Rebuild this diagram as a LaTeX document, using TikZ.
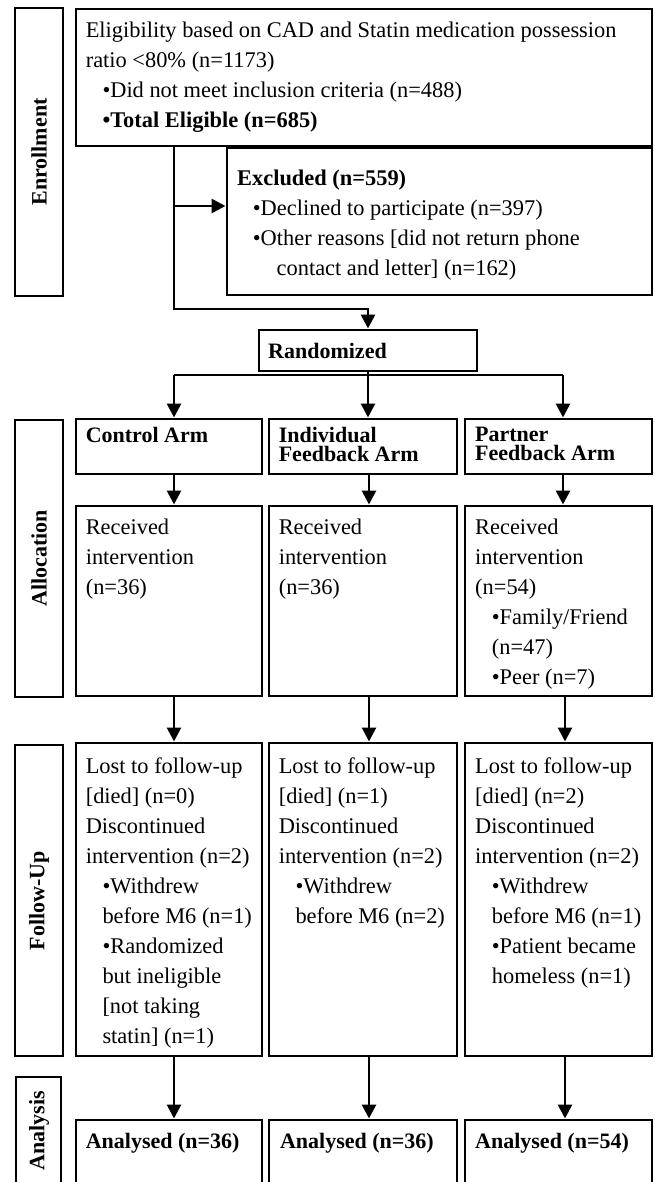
\documentclass[tikz,border=0pt]{standalone}
\usepackage{fontspec}
\setmainfont{Liberation Serif}
\usetikzlibrary{calc,arrows.meta}
\tikzset{%
  panel/.style={draw,line width=1.4pt,inner sep=0pt,outer sep=0pt,anchor=north west},
  body/.style={anchor=north west,align=left,inner sep=0pt,font=\fontsize{22.4}{30}\selectfont},
  head/.style={anchor=north west,align=left,inner sep=0pt,font=\fontsize{22}{19}\selectfont\bfseries},
  stage/.style={rotate=90,inner sep=0pt,font=\fontsize{22}{26}\selectfont\bfseries},
  link/.style={line width=2.8pt,shorten >=1.5pt,-{Triangle[length=14pt,width=14pt]}},
  trunk/.style={line width=2.8pt}
}
\NewDocumentCommand\panelbox{mmmm}{%
  \node[panel,minimum width=#3,minimum height=#4] (#1) at (#2) {};
}
\newcommand\bulgap{\hspace*{16.7pt}}

\begin{document}
\begin{tikzpicture}[x=1pt,y=-1pt]
  \useasboundingbox (0,0) rectangle (655,1182);
  \clip (0,0) rectangle (655,1182);
  % Stage labels
  \panelbox{sideEnr}{15,8}{48}{288}
  \panelbox{sideAll}{15,420}{48}{277}
  \panelbox{sideFol}{15,745}{48}{311}
  \panelbox{sideAna}{16,1077}{45}{130}
  \node[stage] (lblEnr) at (sideEnr.center) {Enrollment};
  \node[stage] (lblAll) at (sideAll.center) {Allocation};
  \node[stage] (lblFol) at (sideFol.center) {Follow-Up};
  \node[stage] (lblAna) at (39,1131) {Analysis};
  % Enrollment
  \panelbox{elig}{76,9}{576}{137}
  \node[body] (eligTxt) at (85.6,22) {Eligibility based on CAD and Statin medication possession\\
    ratio <80\% (n=1173)\\
    \bulgap•Did not meet inclusion criteria (n=488)\\
    \bulgap\textbf{•Total Eligible (n=685)}};
  \panelbox{excl}{227,148}{425}{147}
  \node[body] (exclTxt) at (237,170) {\textbf{Excluded (n=559)}\\
    \hspace*{15.7pt}•Declined to participate (n=397)\\
    \hspace*{15.7pt}•Other reasons [did not return phone\\
    \hspace*{39.5pt}contact and letter] (n=162)};
  \panelbox{rand}{259,330}{218}{41}
  \node[body,font=\fontsize{22}{30}\selectfont\bfseries] (randTxt) at (268,343) {Randomized};
  % Arms
  \panelbox{armC}{76,419}{186}{55}
  \panelbox{armI}{269,419}{188}{55}
  \panelbox{armP}{465,419}{187}{55}
  \node[head] (armCTxt) at (85.6,427) {Control Arm};
  \node[head] (armITxt) at (278.6,427) {Individual\\Feedback Arm};
  \node[head] (armPTxt) at (475,427) {Partner\\Feedback Arm};
  % Allocation
  \panelbox{recC}{76,506}{186}{190}
  \panelbox{recI}{269,506}{188}{190}
  \panelbox{recP}{465,506}{187}{190}
  \node[body] (recCTxt) at (85.6,519) {Received\\intervention\\(n=36)};
  \node[body] (recITxt) at (278.6,519) {Received\\intervention\\(n=36)};
  \node[body] (recPTxt) at (475,519) {Received\\intervention\\(n=54)\\
    \bulgap•Family/Friend\\ \bulgap(n=47)\\ \bulgap•Peer (n=7)};
  % Follow-up
  \panelbox{fupC}{76,743}{186}{313}
  \panelbox{fupI}{269,743}{188}{313}
  \panelbox{fupP}{465,743}{187}{313}
  \node[body] (fupCTxt) at (85.6,758) {Lost to follow-up\\{[died] (n=0)}\\Discontinued\\
    intervention (n=2)\\ \bulgap•Withdrew\\ \bulgap before M6 (n=1)\\
    \bulgap•Randomized\\ \bulgap but ineligible\\ \bulgap{[not taking}\\ \bulgap statin] (n=1)};
  \node[body] (fupITxt) at (278.6,758) {Lost to follow-up\\{[died] (n=1)}\\Discontinued\\
    intervention (n=2)\\ \bulgap•Withdrew\\ \bulgap before M6 (n=2)};
  \node[body] (fupPTxt) at (475,758) {Lost to follow-up\\{[died] (n=2)}\\Discontinued\\
    intervention (n=2)\\ \bulgap•Withdrew\\ \bulgap before M6 (n=1)\\
    \bulgap•Patient became\\ \bulgap homeless (n=1)};
  % Analysis
  \panelbox{anaC}{76,1120}{186}{90}
  \panelbox{anaI}{269,1120}{188}{90}
  \panelbox{anaP}{465,1120}{187}{90}
  \node[body,font=\fontsize{22}{30}\selectfont\bfseries] (anaCTxt) at (85.6,1133) {Analysed (n=36)};
  \node[body,font=\fontsize{22}{30}\selectfont\bfseries] (anaITxt) at (279.9,1133) {Analysed (n=36)};
  \node[body,font=\fontsize{22}{30}\selectfont\bfseries] (anaPTxt) at (475,1133) {Analysed (n=54)};
  % Connectors
  \coordinate (split) at (174,309);
  \coordinate (branch) at (174,206);
  \draw[link] (elig.south -| split) -- (split) -| (rand.north);
  \draw[link] (branch) -- (branch -| excl.west);
  \coordinate (colC) at (174,375);
  \coordinate (colI) at (369,375);
  \coordinate (colP) at (563,375);
  \coordinate (colPlow) at (565,375);
  \draw[trunk] (colC) -- (colP);
  \draw[link] (rand.south) -- (rand.south |- armI.north);
  \draw[link] (colC) -- (colC |- armC.north);
  \draw[link] (colP) -- (colP |- armP.north);
  \draw[link] (armC.south -| colC) -- (recC.north -| colC);
  \draw[link] (armI.south -| colI) -- (recI.north -| colI);
  \draw[link] (armP.south -| colP) -- (recP.north -| colP);
  \draw[link] (recC.south -| colC) -- (fupC.north -| colC);
  \draw[link] (recI.south -| colI) -- (fupI.north -| colI);
  \draw[link] (recP.south -| colPlow) -- (fupP.north -| colPlow);
  \draw[link] (fupC.south -| colC) -- (anaC.north -| colC);
  \draw[link] (fupI.south -| colI) -- (anaI.north -| colI);
  \draw[link] (fupP.south -| colPlow) -- (anaP.north -| colPlow);
\end{tikzpicture}
\end{document}
